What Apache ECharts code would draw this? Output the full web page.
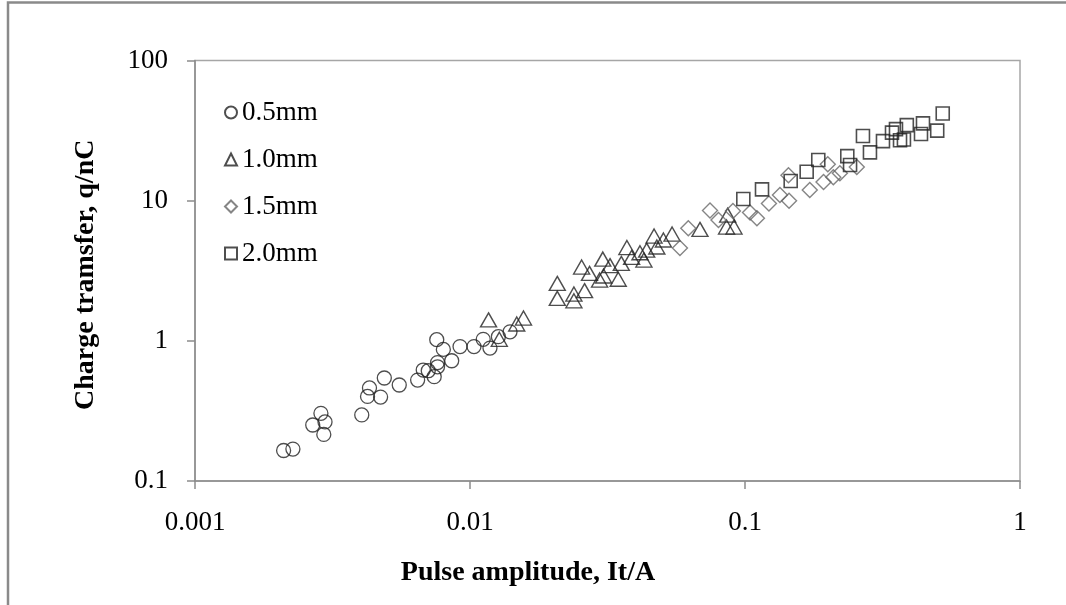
<!DOCTYPE html>
<html>
<head>
<meta charset="utf-8">
<script src="https://cdn.jsdelivr.net/npm/echarts@6/dist/echarts.min.js"></script>
<style>
html,body{margin:0;padding:0;background:#fff;}
#chart{width:1066px;height:605px;}
</style>
</head>
<body>
<div id="chart"></div>
<script>
// ---- data ----
var seriesNames = ['0.5mm', '1.0mm', '1.5mm', '2.0mm'];

var c05_x = [0.0021,0.00227,0.00287,0.00268,0.00297,0.00294,0.00404,0.00424,0.00431,0.00473,0.00488,0.00553,0.00645,0.00676,0.00705,0.00741,0.00757,0.0080,0.00762,0.00762,0.00858,0.0092,0.01034,0.01117,0.01182,0.01268,0.01398];
var c05_y = [0.165,0.169,0.304,0.251,0.264,0.215,0.296,0.401,0.461,0.397,0.543,0.484,0.525,0.619,0.612,0.555,1.02,0.869,0.70,0.653,0.721,0.91,0.91,1.025,0.888,1.07,1.16];

var t10_x = [0.01168,0.01278,0.01479,0.01565,0.02077,0.02077,0.02387,0.02387,0.0261,0.02546,0.0272,0.0296,0.0304,0.0306,0.0323,0.0346,0.0355,0.0372,0.0387,0.0415,0.0429,0.0439,0.0467,0.0478,0.0505,0.0543,0.0686,0.0865,0.0857,0.0912];
var t10_y = [1.41,1.025,1.318,1.454,2.57,2.01,2.157,1.93,2.28,3.36,3.03,2.715,3.83,2.90,3.44,2.75,3.57,4.63,3.94,4.25,3.77,4.44,5.59,4.67,5.24,5.78,6.24,7.89,6.48,6.48];

var d15_x = [0.058,0.0622,0.0746,0.0801,0.0904,0.1043,0.1105,0.1222,0.134,0.1446,0.1439,0.172,0.193,0.2095,0.2213,0.20,0.255];
var d15_y = [4.59,6.35,8.50,7.27,8.43,8.23,7.48,9.53,10.97,10.0,15.2,11.9,13.6,14.7,15.7,18.2,17.4];

var s20_x = [0.0986,0.1153,0.1466,0.1676,0.1847,0.2355,0.241,0.2685,0.2847,0.3175,0.3424,0.3662,0.3784,0.3876,0.4365,0.4438,0.5,0.5236,0.354];
var s20_y = [10.27,12.04,13.8,16.07,19.5,20.8,17.95,28.9,22.1,26.6,30.6,27.0,27.3,34.6,29.9,35.6,31.6,41.9,32.4];

var xTickLabels = ['0.001', '0.01', '0.1', '1'];
var yTickLabels = ['0.1', '1', '10', '100'];
var xTitle = 'Pulse amplitude, It/A';
var yTitle = 'Charge tramsfer, q/nC';

function pairs(xs, ys) { return xs.map(function (x, i) { return [x, ys[i]]; }); }

var FONT = '"Liberation Serif", "Times New Roman", serif';

var chart = echarts.init(document.getElementById('chart'), null, { renderer: 'canvas' });

function mkSeries(name, xs, ys, symbol, size, stroke, bw) {
  return {
    name: name,
    type: 'scatter',
    symbol: symbol,
    symbolSize: size,
    data: pairs(xs, ys),
    itemStyle: { color: 'rgba(0,0,0,0)', borderColor: stroke, borderWidth: bw },
    emphasis: { disabled: true },
    animation: false
  };
}

var option = {
  backgroundColor: '#ffffff',
  animation: false,
  grid: {
    left: 195, right: 46, top: 60.5, bottom: 124,
    show: true, borderColor: '#a6a6a6', borderWidth: 1.5, backgroundColor: 'transparent'
  },
  graphic: [{
    type: 'rect',
    shape: { x: 8, y: 2.5, width: 1200, height: 800 },
    style: { fill: 'none', stroke: '#8a8a8a', lineWidth: 2.5 },
    silent: true, z: -1
  }],
  legend: {
    orient: 'vertical',
    left: 219, top: 94,
    itemWidth: 12, itemHeight: 12,
    itemGap: 20,
    textStyle: { fontFamily: FONT, fontSize: 27, color: '#000', lineHeight: 27, padding: [0, 0, 0, 0] },
    data: [
      { name: seriesNames[0], icon: 'circle' },
      { name: seriesNames[1], icon: 'triangle' },
      { name: seriesNames[2], icon: 'diamond' },
      { name: seriesNames[3], icon: 'rect' }
    ]
  },
  xAxis: {
    type: 'log', logBase: 10, min: 0.001, max: 1,
    name: xTitle, nameLocation: 'middle', nameGap: 78,
    nameTextStyle: { fontFamily: FONT, fontSize: 28, fontWeight: 'bold', color: '#000', padding: [0, 159, 0, 0] },
    axisLine: { lineStyle: { color: '#8c8c8c', width: 1.5 } },
    axisTick: { show: true, inside: false, length: 8, lineStyle: { color: '#8c8c8c', width: 1.5 } },
    minorTick: { show: false },
    splitLine: { show: false },
    axisLabel: {
      margin: 28, color: '#000', fontFamily: FONT, fontSize: 27,
      formatter: function (v) { return xTickLabels[Math.round(Math.log10(v)) + 3]; }
    }
  },
  yAxis: {
    type: 'log', logBase: 10, min: 0.1, max: 100,
    name: yTitle, nameLocation: 'middle', nameGap: 95, nameRotate: 90,
    nameTextStyle: { fontFamily: FONT, fontSize: 28, fontWeight: 'bold', color: '#000', padding: [0, 8, 0, 0] },
    axisLine: { show: true, lineStyle: { color: '#8c8c8c', width: 1.5 } },
    axisTick: { show: true, inside: false, length: 8, lineStyle: { color: '#8c8c8c', width: 1.5 } },
    minorTick: { show: false },
    splitLine: { show: false },
    axisLabel: {
      margin: 27, color: '#000', fontFamily: FONT, fontSize: 27,
      formatter: function (v) { return yTickLabels[Math.round(Math.log10(v)) + 1]; }
    }
  },
  series: [
    mkSeries(seriesNames[0], c05_x, c05_y, 'circle', 14, '#222', 1.3),
    mkSeries(seriesNames[1], t10_x, t10_y, 'triangle', [16, 14], '#222', 1.4),
    mkSeries(seriesNames[2], d15_x, d15_y, 'diamond', 15, '#666', 1.4),
    mkSeries(seriesNames[3], s20_x, s20_y, 'rect', 13, '#222', 1.6)
  ]
};
chart.setOption(option);
</script>
</body>
</html>
